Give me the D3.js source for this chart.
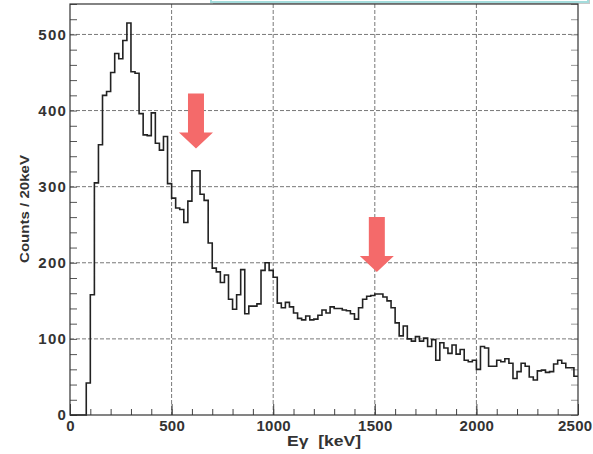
<!DOCTYPE html>
<html>
<head>
  <script src="https://d3js.org/d3.v7.min.js"></script>
  <style>
    body { margin: 0; background: #fff; }
    text { font-family: "Liberation Sans", Arial, sans-serif; }
  </style>
</head>
<body>
<div id="chart"></div>
<script>
// counts per 20 keV bin, starting at 0 keV
var binWidth = 20;
var counts = [
  0, 0, 0, 0, 42, 158, 305, 355, 420, 425,
  450, 475, 468, 492, 515, 451, 449, 396, 368, 367,
  397, 357, 348, 366, 304, 285, 272, 270, 253, 281,
  321, 321, 290, 282, 226, 193, 188, 174, 184, 152,
  139, 158, 191, 133, 143, 143, 146, 190, 200, 190,
  181, 147, 141, 148, 142, 134, 127, 125, 130, 125,
  126, 131, 138, 134, 142, 140, 140, 138, 137, 133,
  126, 141, 152, 156, 157, 159, 159, 155, 150, 141,
  121, 104, 117, 100, 97, 103, 97, 101, 90, 99,
  72, 95, 88, 81, 92, 80, 86, 72, 70, 72,
  60, 90, 88, 64, 64, 72, 70, 74, 68, 48,
  57, 68, 64, 50, 46, 58, 59, 56, 57, 67,
  72, 68, 62, 62, 51
];
var xTicks = [0, 500, 1000, 1500, 2000, 2500];
var yTicks = [0, 100, 200, 300, 400, 500];
// arrows marking the two peaks (energy, count at arrow tip)
var arrowEnergy = [620, 1510];
var arrowTip = [350, 188];

var W = 593, H = 454;
var svg = d3.select("#chart").append("svg")
  .attr("width", W).attr("height", H);

var x = d3.scaleLinear().domain([0, 2500]).range([70, 578]);
var y = d3.scaleLinear().domain([0, 540]).range([415, 4]);

// partial box at the top right (cut off in the original)
svg.append("rect")
  .attr("x", 213).attr("y", -20).attr("width", 377).attr("height", 24)
  .attr("fill", "#c8c8c8");
svg.append("rect")
  .attr("x", 211).attr("y", -20).attr("width", 377).attr("height", 22)
  .attr("fill", "#fff").attr("stroke", "#a4dcdc").attr("stroke-width", 2);

// grid
var grid = svg.append("g").attr("stroke", "#555").attr("stroke-width", 0.8)
  .attr("stroke-dasharray", "4,2");
grid.selectAll(".gx").data(xTicks.slice(1, -1)).enter().append("line")
  .attr("x1", d => x(d)).attr("x2", d => x(d))
  .attr("y1", y(540)).attr("y2", y(0));
grid.selectAll(".gy").data(yTicks.slice(1)).enter().append("line")
  .attr("x1", x(0)).attr("x2", x(2500))
  .attr("y1", d => y(d)).attr("y2", d => y(d));

// minor ticks, drawn inside the frame like ROOT
var xMinor = d3.range(0, 2501, 100);
var yMinor = d3.range(0, 541, 20);
svg.append("g").attr("transform", "translate(0,415)")
  .call(d3.axisBottom(x).tickValues(xMinor).tickSize(-6).tickFormat(""))
  .call(g => g.select(".domain").remove())
  .selectAll("line").attr("stroke", "#444");
svg.append("g").attr("transform", "translate(0,415)")
  .call(d3.axisBottom(x).tickValues(xTicks).tickSize(-11).tickFormat(""))
  .call(g => g.select(".domain").remove())
  .selectAll("line").attr("stroke", "#444");
svg.append("g").attr("transform", "translate(70,0)")
  .call(d3.axisLeft(y).tickValues(yMinor).tickSize(-7).tickFormat(""))
  .call(g => g.select(".domain").remove())
  .selectAll("line").attr("stroke", "#555");
svg.append("g").attr("transform", "translate(578,0)")
  .call(d3.axisRight(y).tickValues(yMinor).tickSize(-7).tickFormat(""))
  .call(g => g.select(".domain").remove())
  .selectAll("line").attr("stroke", "#999");

// histogram as a step line
var pts = counts.map((c, i) => [i * binWidth, c]);
pts.push([counts.length * binWidth, counts[counts.length - 1]]);
var line = d3.line()
  .x(d => x(d[0]))
  .y(d => y(d[1]))
  .curve(d3.curveStepAfter);
svg.append("path")
  .datum(pts)
  .attr("fill", "none")
  .attr("stroke", "#222")
  .attr("stroke-width", 1.6)
  .attr("d", line);

// frame
svg.append("rect")
  .attr("x", 70).attr("y", 4).attr("width", 508).attr("height", 411)
  .attr("fill", "none").attr("stroke", "#333").attr("stroke-width", 1.2);

// tick labels
var xAxis = svg.append("g").attr("transform", "translate(0,415)")
  .call(d3.axisBottom(x).tickValues(xTicks).tickSize(0).tickPadding(5)
    .tickFormat(d3.format("d")));
xAxis.select(".domain").remove();
xAxis.selectAll("text")
  .style("font-size", "15px").style("font-weight", "bold")
  .style("letter-spacing", "0.3px").attr("fill", "#333");
// last label sits against the right edge of the page
xAxis.selectAll("text").filter(d => d === 2500)
  .attr("text-anchor", "end").attr("x", 592 - 578);

var yAxis = svg.append("g").attr("transform", "translate(70,0)")
  .call(d3.axisLeft(y).tickValues(yTicks).tickSize(0).tickPadding(3));
yAxis.select(".domain").remove();
yAxis.selectAll("text")
  .style("font-size", "15px").style("font-weight", "bold")
  .style("letter-spacing", "1.2px").attr("fill", "#333");

// axis titles
svg.append("text")
  .attr("x", 287).attr("y", 446)
  .attr("textLength", 74).attr("lengthAdjust", "spacingAndGlyphs")
  .style("font-size", "15px").style("font-weight", "bold").attr("fill", "#333")
  .text("Eγ\u00a0\u00a0[keV]");
svg.append("text")
  .attr("transform", "translate(29,263) rotate(-90)")
  .attr("textLength", 108).attr("lengthAdjust", "spacingAndGlyphs")
  .style("font-size", "13px").style("font-weight", "bold").attr("fill", "#333")
  .text("Counts / 20keV");

// red arrows
var arrow = svg.append("g").attr("fill", "#f46a6a");
arrowEnergy.forEach(function(e, i) {
  var cx = x(e), tip = y(arrowTip[i]);
  var top = tip - 55, base = tip - 16;
  arrow.append("path")
    .attr("d", d3.line()([
      [cx - 8, top], [cx + 8, top], [cx + 8, base], [cx + 17, base],
      [cx, tip], [cx - 17, base], [cx - 8, base]
    ]) + "Z");
});
</script>
</body>
</html>
